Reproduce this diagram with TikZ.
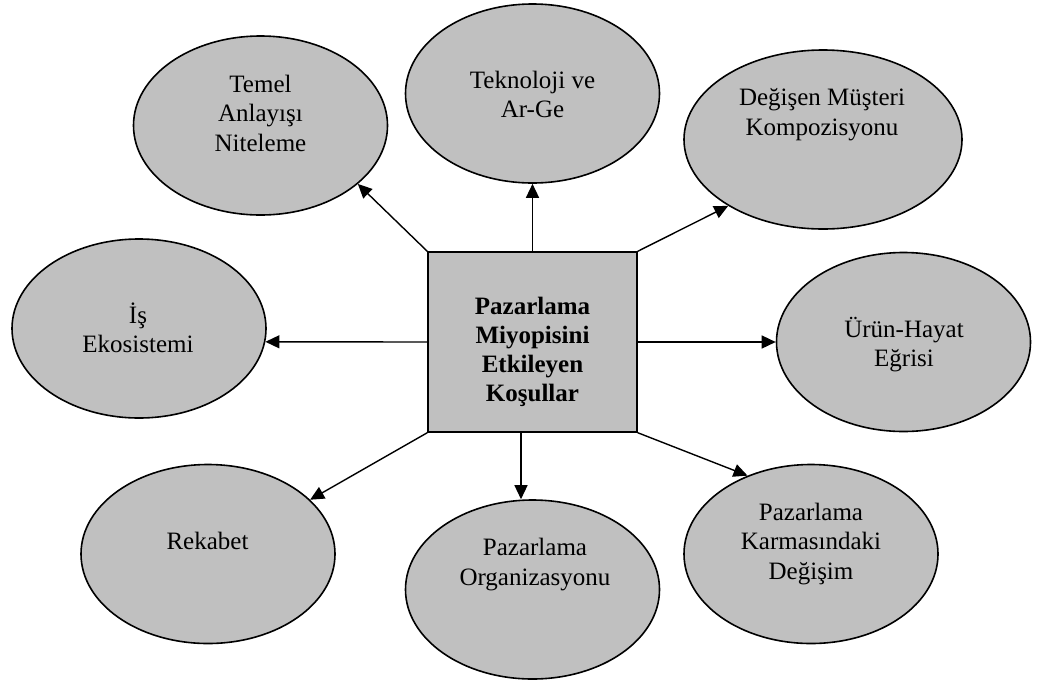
\documentclass[tikz,border=0pt]{standalone}
\usepackage{fontspec}
\setmainfont{Liberation Serif}
\usetikzlibrary{shapes.geometric,arrows.meta}
\definecolor{bubblegray}{HTML}{C0C0C0}

\begin{document}
\begin{tikzpicture}[x=1pt,y=-1pt,
  bubble/.style={ellipse,draw,line width=1.6pt,fill=bubblegray,minimum width=254pt,minimum height=179pt,inner sep=0pt},
  bubbletext/.style={align=center,inner sep=0pt,font=\fontsize{25}{29.5}\selectfont},
  hub/.style={rectangle,draw,line width=1.4pt,fill=bubblegray,minimum width=209pt,minimum height=180pt,inner sep=0pt},
  hubtext/.style={align=center,inner sep=0pt,font=\fontsize{25}{28.8}\selectfont\bfseries},
  arr/.style={line width=1.4pt,-{Triangle[length=14pt,width=13pt]}}]

\useasboundingbox (0,0) rectangle (1038,681);

% centre box
\node[hub] (hub) at (532.5,342) {};
\node[hubtext] (hubtxt) at (532.5,352) {Pazarlama\\Miyopisini\\Etkileyen\\Koşullar};

% surrounding ellipses
\node[bubble] (temel) at (260.5,125.5) {};
\node[bubbletext] (temeltxt) at (260.5,113) {Temel\\Anlayışı\\Niteleme};

\node[bubble] (tekno) at (532.5,93.5) {};
\node[bubbletext] (teknotxt) at (532.5,94.5) {Teknoloji ve\\Ar-Ge};

\node[bubble,minimum width=278pt] (musteri) at (823,139.5) {};
\node[bubbletext] (musteritxt) at (822,114.6) {Değişen Müşteri\\Kompozisyonu};

\node[bubble] (ekosis) at (139,328.5) {};
\node[bubbletext] (ekosistxt) at (138,327.7) {İş\\Ekosistemi};

\node[bubble] (urun) at (903.5,342) {};
\node[bubbletext] (uruntxt) at (904,344.6) {Ürün-Hayat\\Eğrisi};

\node[bubble] (rekabet) at (208,554) {};
\node[bubbletext] (rekabettxt) at (207.5,540.5) {Rekabet};

\node[bubble] (orga) at (532.5,589.5) {};
\node[bubbletext] (orgatxt) at (535,564.6) {Pazarlama\\Organizasyonu};

\node[bubble] (karma) at (811,554) {};
\node[bubbletext] (karmatxt) at (811,543.6) {Pazarlama\\Karmasındaki\\Değişim};

% arrows
\draw[arr] (hub.north west) -- (temel.-31);
\draw[arr] (hub.north) -- (tekno.south);
\draw[arr] (hub.north east) -- (musteri.215);
\draw[arr] (hub.west) -- (ekosis.-6);
\draw[arr] (hub.east) -- (urun.west);
\draw[arr] (hub.south west) -- (rekabet.28);
\draw[arr] ([xshift=-11.5pt]hub.south) -- ([xshift=-11.5pt]hub.south |- orga.north);
\draw[arr] (hub.south east) -- (karma.129);

\end{tikzpicture}
\end{document}
